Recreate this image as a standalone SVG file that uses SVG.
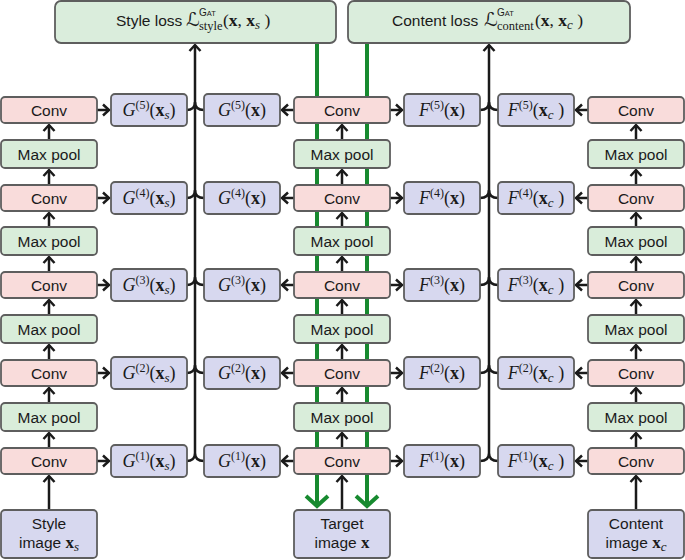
<svg xmlns="http://www.w3.org/2000/svg" width="685" height="560" viewBox="0 0 685 560">
<defs>
<style>
.conv{fill:#f9dcdb;stroke:#5e5e5e;stroke-width:1.8}
.pool{fill:#d9edda;stroke:#5e5e5e;stroke-width:1.8}
.feat{fill:#d7d8ef;stroke:#5e5e5e;stroke-width:1.8}
.loss{fill:#daeddc;stroke:#5e5e5e;stroke-width:1.8}
.s{font-family:"Liberation Sans",Arial,sans-serif;font-size:15.5px;fill:#1a1a1a}
.c{text-anchor:middle}
.m{font-family:"Liberation Serif","Times New Roman",serif;font-size:18px;fill:#1a1a1a}
.i{font-style:italic}
.b{font-weight:bold}
.sup{font-size:12px}
.sub{font-size:13px;font-style:italic}
.scr{font-family:"DejaVu Serif","DejaVu Sans",serif;font-size:19px;fill:#1a1a1a}
.gat{font-family:"Liberation Sans",Arial,sans-serif;fill:#1a1a1a}
.ar{stroke:#1a1a1a;stroke-width:2.5;fill:none;marker-end:url(#ah)}
.br{stroke:#1a1a1a;stroke-width:2.5;fill:none}
.gr{stroke:#178a2f;stroke-width:4;fill:none;marker-end:url(#ag)}
</style>
<marker id="ah" viewBox="-9 -8 12 16" markerWidth="12" markerHeight="16" refX="0" refY="0" orient="auto" markerUnits="userSpaceOnUse">
<path d="M-6,-5.5 L0,0 L-6,5.5" fill="none" stroke="#1a1a1a" stroke-width="2.5" stroke-linejoin="miter"/>
</marker>
<marker id="ag" viewBox="-14 -14 18 28" markerWidth="18" markerHeight="28" refX="0" refY="0" orient="auto" markerUnits="userSpaceOnUse">
<path d="M-10,-11 L0,0 L-10,11" fill="none" stroke="#178a2f" stroke-width="4" stroke-linejoin="miter"/>
</marker>
</defs>
<rect width="685" height="560" fill="#ffffff"/>

<g id="connectors">
<line class="gr" x1="317" y1="43" x2="317" y2="506"/>
<line class="gr" x1="367" y1="43" x2="367" y2="506"/>
<line class="ar" x1="195" y1="453" x2="195" y2="45"/>
<line class="ar" x1="489" y1="453" x2="489" y2="45"/>
<path class="br" d="M187,110 C191,110 195,108 195,102 M204,110 C199,110 195,108 195,102 M187,198 C191,198 195,196 195,190 M204,198 C199,198 195,196 195,190 M187,285 C191,285 195,283 195,277 M204,285 C199,285 195,283 195,277 M187,373 C191,373 195,371 195,365 M204,373 C199,373 195,371 195,365 M187,461 C191,461 195,459 195,453 M204,461 C199,461 195,459 195,453"/>
<path class="br" d="M480,110 C485,110 489,108 489,102 M498,110 C493,110 489,108 489,102 M480,198 C485,198 489,196 489,190 M498,198 C493,198 489,196 489,190 M480,285 C485,285 489,283 489,277 M498,285 C493,285 489,283 489,277 M480,373 C485,373 489,371 489,365 M498,373 C493,373 489,371 489,365 M480,461 C485,461 489,459 489,453 M498,461 C493,461 489,459 489,453"/>
<line class="ar" x1="49" y1="510" x2="49" y2="476"/>
<line class="ar" x1="49" y1="448" x2="49" y2="433"/>
<line class="ar" x1="49" y1="403" x2="49" y2="388"/>
<line class="ar" x1="49" y1="360" x2="49" y2="345"/>
<line class="ar" x1="49" y1="315" x2="49" y2="300"/>
<line class="ar" x1="49" y1="272" x2="49" y2="257"/>
<line class="ar" x1="49" y1="227" x2="49" y2="213"/>
<line class="ar" x1="49" y1="185" x2="49" y2="170"/>
<line class="ar" x1="49" y1="140" x2="49" y2="125"/>
<line class="ar" x1="342" y1="510" x2="342" y2="476"/>
<line class="ar" x1="342" y1="448" x2="342" y2="433"/>
<line class="ar" x1="342" y1="403" x2="342" y2="388"/>
<line class="ar" x1="342" y1="360" x2="342" y2="345"/>
<line class="ar" x1="342" y1="315" x2="342" y2="300"/>
<line class="ar" x1="342" y1="272" x2="342" y2="257"/>
<line class="ar" x1="342" y1="227" x2="342" y2="213"/>
<line class="ar" x1="342" y1="185" x2="342" y2="170"/>
<line class="ar" x1="342" y1="140" x2="342" y2="125"/>
<line class="ar" x1="636" y1="510" x2="636" y2="476"/>
<line class="ar" x1="636" y1="448" x2="636" y2="433"/>
<line class="ar" x1="636" y1="403" x2="636" y2="388"/>
<line class="ar" x1="636" y1="360" x2="636" y2="345"/>
<line class="ar" x1="636" y1="315" x2="636" y2="300"/>
<line class="ar" x1="636" y1="272" x2="636" y2="257"/>
<line class="ar" x1="636" y1="227" x2="636" y2="213"/>
<line class="ar" x1="636" y1="185" x2="636" y2="170"/>
<line class="ar" x1="636" y1="140" x2="636" y2="125"/>
<path class="ar" d="M97,110 H109"/><path class="ar" d="M294,110 H282"/><path class="ar" d="M390,110 H402"/><path class="ar" d="M588,110 H576"/>
<path class="ar" d="M97,198 H109"/><path class="ar" d="M294,198 H282"/><path class="ar" d="M390,198 H402"/><path class="ar" d="M588,198 H576"/>
<path class="ar" d="M97,285 H109"/><path class="ar" d="M294,285 H282"/><path class="ar" d="M390,285 H402"/><path class="ar" d="M588,285 H576"/>
<path class="ar" d="M97,373 H109"/><path class="ar" d="M294,373 H282"/><path class="ar" d="M390,373 H402"/><path class="ar" d="M588,373 H576"/>
<path class="ar" d="M97,461 H109"/><path class="ar" d="M294,461 H282"/><path class="ar" d="M390,461 H402"/><path class="ar" d="M588,461 H576"/>
</g>

<g id="style-loss">
<rect class="loss" x="55" y="1" width="281" height="42" rx="6"/>
<text class="s" x="116" y="25.5">Style loss</text>
<text class="scr" x="186" y="25.5">ℒ</text>
<text class="gat" x="199" y="16"><tspan style="font-size:10px">G</tspan><tspan style="font-size:7.5px">AT</tspan></text>
<text class="m" x="199" y="30" style="font-size:12.5px">style</text>
<text class="m" x="223" y="25.5" style="font-size:17.5px">(<tspan class="b">x</tspan>, <tspan class="b">x</tspan><tspan class="sub" dy="3">s</tspan><tspan dy="-3"> )</tspan></text>
</g>

<g id="content-loss">
<rect class="loss" x="348" y="1" width="282" height="42" rx="6"/>
<text class="s" x="392" y="25.5">Content loss</text>
<text class="scr" x="484" y="25.5">ℒ</text>
<text class="gat" x="497" y="16"><tspan style="font-size:10px">G</tspan><tspan style="font-size:7.5px">AT</tspan></text>
<text class="m" x="497" y="30" style="font-size:12.5px">content</text>
<text class="m" x="535" y="25.5" style="font-size:17.5px">(<tspan class="b">x</tspan>, <tspan class="b">x</tspan><tspan class="sub" dy="3">c</tspan><tspan dy="-3"> )</tspan></text>
</g>

<g id="style-conv5"><rect class="conv" x="1" y="97" width="96" height="26" rx="4"/><text class="s c" x="49" y="115.5">Conv</text></g>
<g id="style-pool4"><rect class="pool" x="1" y="140" width="96" height="28" rx="4"/><text class="s c" x="49" y="159.5">Max pool</text></g>
<g id="style-conv4"><rect class="conv" x="1" y="185" width="96" height="26" rx="4"/><text class="s c" x="49" y="203.5">Conv</text></g>
<g id="style-pool3"><rect class="pool" x="1" y="227" width="96" height="28" rx="4"/><text class="s c" x="49" y="246.5">Max pool</text></g>
<g id="style-conv3"><rect class="conv" x="1" y="272" width="96" height="26" rx="4"/><text class="s c" x="49" y="290.5">Conv</text></g>
<g id="style-pool2"><rect class="pool" x="1" y="315" width="96" height="28" rx="4"/><text class="s c" x="49" y="334.5">Max pool</text></g>
<g id="style-conv2"><rect class="conv" x="1" y="360" width="96" height="26" rx="4"/><text class="s c" x="49" y="378.5">Conv</text></g>
<g id="style-pool1"><rect class="pool" x="1" y="403" width="96" height="28" rx="4"/><text class="s c" x="49" y="422.5">Max pool</text></g>
<g id="style-conv1"><rect class="conv" x="1" y="448" width="96" height="26" rx="4"/><text class="s c" x="49" y="466.5">Conv</text></g>
<g id="style-image"><rect class="feat" x="1" y="510" width="96" height="48" rx="4"/><text class="s c" x="49" y="529">Style</text><text class="s c" x="49" y="548">image <tspan class="m b" style="font-size:17px">x</tspan><tspan class="m sub" dy="3">s</tspan></text></g>

<g id="g5-xs"><rect class="feat" x="111" y="94" width="76" height="32" rx="4"/><text class="m c" x="149" y="116"><tspan class="i">G</tspan><tspan class="sup" dy="-7">(5)</tspan><tspan dy="7">(</tspan><tspan class="b">x</tspan><tspan class="sub" dy="3">s</tspan><tspan dy="-3">)</tspan></text></g>
<g id="g4-xs"><rect class="feat" x="111" y="182" width="76" height="32" rx="4"/><text class="m c" x="149" y="204"><tspan class="i">G</tspan><tspan class="sup" dy="-7">(4)</tspan><tspan dy="7">(</tspan><tspan class="b">x</tspan><tspan class="sub" dy="3">s</tspan><tspan dy="-3">)</tspan></text></g>
<g id="g3-xs"><rect class="feat" x="111" y="269" width="76" height="32" rx="4"/><text class="m c" x="149" y="291"><tspan class="i">G</tspan><tspan class="sup" dy="-7">(3)</tspan><tspan dy="7">(</tspan><tspan class="b">x</tspan><tspan class="sub" dy="3">s</tspan><tspan dy="-3">)</tspan></text></g>
<g id="g2-xs"><rect class="feat" x="111" y="357" width="76" height="32" rx="4"/><text class="m c" x="149" y="379"><tspan class="i">G</tspan><tspan class="sup" dy="-7">(2)</tspan><tspan dy="7">(</tspan><tspan class="b">x</tspan><tspan class="sub" dy="3">s</tspan><tspan dy="-3">)</tspan></text></g>
<g id="g1-xs"><rect class="feat" x="111" y="445" width="76" height="32" rx="4"/><text class="m c" x="149" y="467"><tspan class="i">G</tspan><tspan class="sup" dy="-7">(1)</tspan><tspan dy="7">(</tspan><tspan class="b">x</tspan><tspan class="sub" dy="3">s</tspan><tspan dy="-3">)</tspan></text></g>

<g id="g5-x"><rect class="feat" x="204" y="94" width="76" height="32" rx="4"/><text class="m c" x="242" y="116"><tspan class="i">G</tspan><tspan class="sup" dy="-7">(5)</tspan><tspan dy="7">(</tspan><tspan class="b">x</tspan>)</text></g>
<g id="g4-x"><rect class="feat" x="204" y="182" width="76" height="32" rx="4"/><text class="m c" x="242" y="204"><tspan class="i">G</tspan><tspan class="sup" dy="-7">(4)</tspan><tspan dy="7">(</tspan><tspan class="b">x</tspan>)</text></g>
<g id="g3-x"><rect class="feat" x="204" y="269" width="76" height="32" rx="4"/><text class="m c" x="242" y="291"><tspan class="i">G</tspan><tspan class="sup" dy="-7">(3)</tspan><tspan dy="7">(</tspan><tspan class="b">x</tspan>)</text></g>
<g id="g2-x"><rect class="feat" x="204" y="357" width="76" height="32" rx="4"/><text class="m c" x="242" y="379"><tspan class="i">G</tspan><tspan class="sup" dy="-7">(2)</tspan><tspan dy="7">(</tspan><tspan class="b">x</tspan>)</text></g>
<g id="g1-x"><rect class="feat" x="204" y="445" width="76" height="32" rx="4"/><text class="m c" x="242" y="467"><tspan class="i">G</tspan><tspan class="sup" dy="-7">(1)</tspan><tspan dy="7">(</tspan><tspan class="b">x</tspan>)</text></g>

<g id="target-conv5"><rect class="conv" x="294" y="97" width="96" height="26" rx="4"/><text class="s c" x="342" y="115.5">Conv</text></g>
<g id="target-pool4"><rect class="pool" x="294" y="140" width="96" height="28" rx="4"/><text class="s c" x="342" y="159.5">Max pool</text></g>
<g id="target-conv4"><rect class="conv" x="294" y="185" width="96" height="26" rx="4"/><text class="s c" x="342" y="203.5">Conv</text></g>
<g id="target-pool3"><rect class="pool" x="294" y="227" width="96" height="28" rx="4"/><text class="s c" x="342" y="246.5">Max pool</text></g>
<g id="target-conv3"><rect class="conv" x="294" y="272" width="96" height="26" rx="4"/><text class="s c" x="342" y="290.5">Conv</text></g>
<g id="target-pool2"><rect class="pool" x="294" y="315" width="96" height="28" rx="4"/><text class="s c" x="342" y="334.5">Max pool</text></g>
<g id="target-conv2"><rect class="conv" x="294" y="360" width="96" height="26" rx="4"/><text class="s c" x="342" y="378.5">Conv</text></g>
<g id="target-pool1"><rect class="pool" x="294" y="403" width="96" height="28" rx="4"/><text class="s c" x="342" y="422.5">Max pool</text></g>
<g id="target-conv1"><rect class="conv" x="294" y="448" width="96" height="26" rx="4"/><text class="s c" x="342" y="466.5">Conv</text></g>
<g id="target-image"><rect class="feat" x="294" y="510" width="96" height="48" rx="4"/><text class="s c" x="342" y="529">Target</text><text class="s c" x="342" y="548">image <tspan class="m b" style="font-size:17px">x</tspan></text></g>

<g id="f5-x"><rect class="feat" x="404" y="94" width="76" height="32" rx="4"/><text class="m c" x="442" y="116"><tspan class="i">F</tspan><tspan class="sup" dy="-7">(5)</tspan><tspan dy="7">(</tspan><tspan class="b">x</tspan>)</text></g>
<g id="f4-x"><rect class="feat" x="404" y="182" width="76" height="32" rx="4"/><text class="m c" x="442" y="204"><tspan class="i">F</tspan><tspan class="sup" dy="-7">(4)</tspan><tspan dy="7">(</tspan><tspan class="b">x</tspan>)</text></g>
<g id="f3-x"><rect class="feat" x="404" y="269" width="76" height="32" rx="4"/><text class="m c" x="442" y="291"><tspan class="i">F</tspan><tspan class="sup" dy="-7">(3)</tspan><tspan dy="7">(</tspan><tspan class="b">x</tspan>)</text></g>
<g id="f2-x"><rect class="feat" x="404" y="357" width="76" height="32" rx="4"/><text class="m c" x="442" y="379"><tspan class="i">F</tspan><tspan class="sup" dy="-7">(2)</tspan><tspan dy="7">(</tspan><tspan class="b">x</tspan>)</text></g>
<g id="f1-x"><rect class="feat" x="404" y="445" width="76" height="32" rx="4"/><text class="m c" x="442" y="467"><tspan class="i">F</tspan><tspan class="sup" dy="-7">(1)</tspan><tspan dy="7">(</tspan><tspan class="b">x</tspan>)</text></g>

<g id="f5-xc"><rect class="feat" x="498" y="94" width="76" height="32" rx="4"/><text class="m c" x="536" y="116"><tspan class="i">F</tspan><tspan class="sup" dy="-7">(5)</tspan><tspan dy="7">(</tspan><tspan class="b">x</tspan><tspan class="sub" dy="3">c</tspan><tspan dy="-3"> )</tspan></text></g>
<g id="f4-xc"><rect class="feat" x="498" y="182" width="76" height="32" rx="4"/><text class="m c" x="536" y="204"><tspan class="i">F</tspan><tspan class="sup" dy="-7">(4)</tspan><tspan dy="7">(</tspan><tspan class="b">x</tspan><tspan class="sub" dy="3">c</tspan><tspan dy="-3"> )</tspan></text></g>
<g id="f3-xc"><rect class="feat" x="498" y="269" width="76" height="32" rx="4"/><text class="m c" x="536" y="291"><tspan class="i">F</tspan><tspan class="sup" dy="-7">(3)</tspan><tspan dy="7">(</tspan><tspan class="b">x</tspan><tspan class="sub" dy="3">c</tspan><tspan dy="-3"> )</tspan></text></g>
<g id="f2-xc"><rect class="feat" x="498" y="357" width="76" height="32" rx="4"/><text class="m c" x="536" y="379"><tspan class="i">F</tspan><tspan class="sup" dy="-7">(2)</tspan><tspan dy="7">(</tspan><tspan class="b">x</tspan><tspan class="sub" dy="3">c</tspan><tspan dy="-3"> )</tspan></text></g>
<g id="f1-xc"><rect class="feat" x="498" y="445" width="76" height="32" rx="4"/><text class="m c" x="536" y="467"><tspan class="i">F</tspan><tspan class="sup" dy="-7">(1)</tspan><tspan dy="7">(</tspan><tspan class="b">x</tspan><tspan class="sub" dy="3">c</tspan><tspan dy="-3"> )</tspan></text></g>

<g id="content-conv5"><rect class="conv" x="588" y="97" width="96" height="26" rx="4"/><text class="s c" x="636" y="115.5">Conv</text></g>
<g id="content-pool4"><rect class="pool" x="588" y="140" width="96" height="28" rx="4"/><text class="s c" x="636" y="159.5">Max pool</text></g>
<g id="content-conv4"><rect class="conv" x="588" y="185" width="96" height="26" rx="4"/><text class="s c" x="636" y="203.5">Conv</text></g>
<g id="content-pool3"><rect class="pool" x="588" y="227" width="96" height="28" rx="4"/><text class="s c" x="636" y="246.5">Max pool</text></g>
<g id="content-conv3"><rect class="conv" x="588" y="272" width="96" height="26" rx="4"/><text class="s c" x="636" y="290.5">Conv</text></g>
<g id="content-pool2"><rect class="pool" x="588" y="315" width="96" height="28" rx="4"/><text class="s c" x="636" y="334.5">Max pool</text></g>
<g id="content-conv2"><rect class="conv" x="588" y="360" width="96" height="26" rx="4"/><text class="s c" x="636" y="378.5">Conv</text></g>
<g id="content-pool1"><rect class="pool" x="588" y="403" width="96" height="28" rx="4"/><text class="s c" x="636" y="422.5">Max pool</text></g>
<g id="content-conv1"><rect class="conv" x="588" y="448" width="96" height="26" rx="4"/><text class="s c" x="636" y="466.5">Conv</text></g>
<g id="content-image"><rect class="feat" x="588" y="510" width="96" height="48" rx="4"/><text class="s c" x="636" y="529">Content</text><text class="s c" x="636" y="548">image <tspan class="m b" style="font-size:17px">x</tspan><tspan class="m sub" dy="3">c</tspan></text></g>
</svg>
